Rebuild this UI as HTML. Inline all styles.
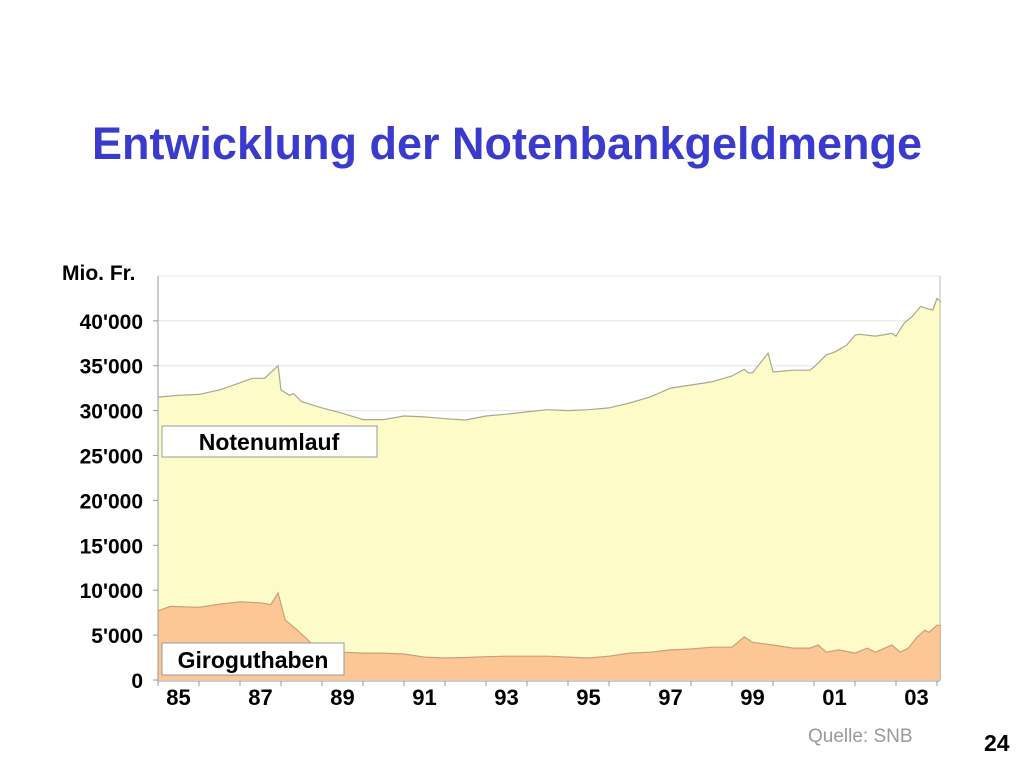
<!DOCTYPE html>
<html><head><meta charset="utf-8"><style>
body{margin:0;width:1024px;height:768px;background:#fff;font-family:"Liberation Sans",Arial,sans-serif;position:relative;overflow:hidden}
.t{position:absolute;white-space:nowrap}
</style></head><body>
<div class="t" style="left:0;width:1014px;text-align:center;top:118px;font-size:45px;font-weight:bold;color:#3a3acc">Entwicklung der Notenbankgeldmenge</div>
<svg id="chart" width="1024" height="768" style="position:absolute;left:0;top:0"></svg>
<div class="t" style="left:808px;top:726px;font-size:19px;color:#999">Quelle: SNB</div>
<div class="t" style="left:984px;top:730px;font-size:23px;font-weight:bold;color:#000">24</div>
<script>
const years=[1985,1985.5,1986,1986.5,1987,1987.3,1987.6,1987.93,1988,1988.2,1988.3,1988.5,1989,1989.5,1990,1990.5,1991,1991.5,1992,1992.5,1993,1993.5,1994,1994.5,1995,1995.5,1996,1996.5,1997,1997.5,1998,1998.5,1999,1999.3,1999.4,1999.5,1999.88,2000,2000.5,2000.9,2001,2001.3,2001.5,2001.8,2002,2002.1,2002.5,2002.9,2003,2003.2,2003.4,2003.6,2003.8,2003.9,2004,2004.1];
const total=[31500,31700,31800,32300,33100,33600,33600,35000,32300,31700,31900,31000,30300,29700,29000,29000,29400,29300,29100,28950,29400,29600,29850,30100,30000,30100,30300,30850,31500,32500,32850,33200,33850,34600,34200,34200,36400,34300,34500,34500,34850,36200,36500,37300,38400,38500,38300,38600,38300,39750,40500,41600,41300,41200,42500,42100];
const giroYears=[1985,1985.3,1986,1986.5,1987,1987.5,1987.75,1987.93,1988.1,1988.4,1988.6,1988.85,1989,1989.5,1990,1990.5,1991,1991.5,1992,1992.5,1993,1993.5,1994,1994.5,1995,1995.5,1996,1996.5,1997,1997.5,1998,1998.5,1999,1999.3,1999.5,2000,2000.5,2000.9,2001.1,2001.3,2001.6,2002,2002.3,2002.5,2002.9,2003.1,2003.3,2003.5,2003.7,2003.8,2004,2004.1];
const giro=[7700,8200,8100,8450,8700,8600,8400,9700,6700,5550,4700,3600,3350,3100,3000,3000,2900,2550,2450,2500,2600,2650,2650,2650,2550,2450,2650,3000,3100,3350,3450,3650,3650,4800,4200,3900,3550,3550,3900,3100,3350,3000,3550,3100,3900,3100,3550,4700,5550,5300,6100,6100];
const yTicks=[0,5000,10000,15000,20000,25000,30000,35000,40000];
const yTickLabels=["0","5'000","10'000","15'000","20'000","25'000","30'000","35'000","40'000"];
const xLabels=["85","87","89","91","93","95","97","99","01","03"];
const xLabelYears=[1985,1987,1989,1991,1993,1995,1997,1999,2001,2003];
const X=t=>158+(t-1985)*41, Y=v=>680-v*44.9/5000;
const svg=document.getElementById('chart'),NS='http://www.w3.org/2000/svg';
const FF='Liberation Sans, sans-serif';
function mk(tag,attrs,name){const e=document.createElementNS(NS,tag);for(const k in attrs)e.setAttribute(k,attrs[k]);


svg.appendChild(e);return e;}
[45000,...yTicks.slice(1)].forEach(v=>{mk('line',{x1:158,x2:940,y1:Y(v),y2:Y(v),stroke:'#e6e6e6','stroke-width':1},'gridline');});
function area(xs,vs){let d='M'+X(xs[0])+','+Y(0);xs.forEach((t,i)=>d+='L'+X(t).toFixed(1)+','+Y(vs[i]).toFixed(1));return d+'L'+X(xs[xs.length-1])+','+Y(0)+'Z';}
function line(xs,vs){return xs.map((t,i)=>(i?'L':'M')+X(t).toFixed(1)+','+Y(vs[i]).toFixed(1)).join('');}
mk('path',{d:area(years,total),fill:'#fdfcc8'},'notenumlauf-area');
mk('path',{d:line(years,total),fill:'none',stroke:'#a8a890','stroke-width':1.2},'notenumlauf-line');
mk('path',{d:area(giroYears,giro),fill:'#fcc795'},'giroguthaben-area');
mk('path',{d:line(giroYears,giro),fill:'none',stroke:'#c9a07a','stroke-width':1.2},'giroguthaben-line');
mk('line',{x1:158,x2:158,y1:276,y2:681,stroke:'#999'},'y-axis');
mk('line',{x1:940,x2:940,y1:276,y2:681,stroke:'#bbb'},'right-border');
mk('line',{x1:158,x2:940,y1:681,y2:681,stroke:'#999'},'x-axis');
yTicks.forEach((v,i)=>{mk('line',{x1:153,x2:158,y1:Y(v),y2:Y(v),stroke:'#999'},'y-tick');
const t=mk('text',{x:143,y:Y(v)+8,'text-anchor':'end','font-size':21,'font-weight':'bold','font-family':FF},'y-tick-label');t.textContent=yTickLabels[i];});
for(let yr=1985;yr<=2004;yr++){mk('line',{x1:X(yr),x2:X(yr),y1:681,y2:686,stroke:'#999'},'x-tick');}
xLabelYears.forEach((yr,i)=>{const t=mk('text',{x:X(yr+0.5),y:705,'text-anchor':'middle','font-size':22,'font-weight':'bold','font-family':FF},'x-tick-label');t.textContent=xLabels[i];});
const u=mk('text',{x:62,y:280,'font-size':21,'font-weight':'bold','font-family':FF},'y-axis-unit');u.textContent='Mio. Fr.';
mk('rect',{x:162,y:426,width:215,height:31,fill:'#fff',stroke:'#999'},'notenumlauf-label-box');
const a=mk('text',{x:269,y:450,'text-anchor':'middle','font-size':23,'font-weight':'bold','font-family':FF},'notenumlauf-label');a.textContent='Notenumlauf';
mk('rect',{x:162,y:643,width:182,height:32,fill:'#fff',stroke:'#999'},'giroguthaben-label-box');
const b=mk('text',{x:253,y:668,'text-anchor':'middle','font-size':23,'font-weight':'bold','font-family':FF},'giroguthaben-label');b.textContent='Giroguthaben';
</script>
</body></html>
